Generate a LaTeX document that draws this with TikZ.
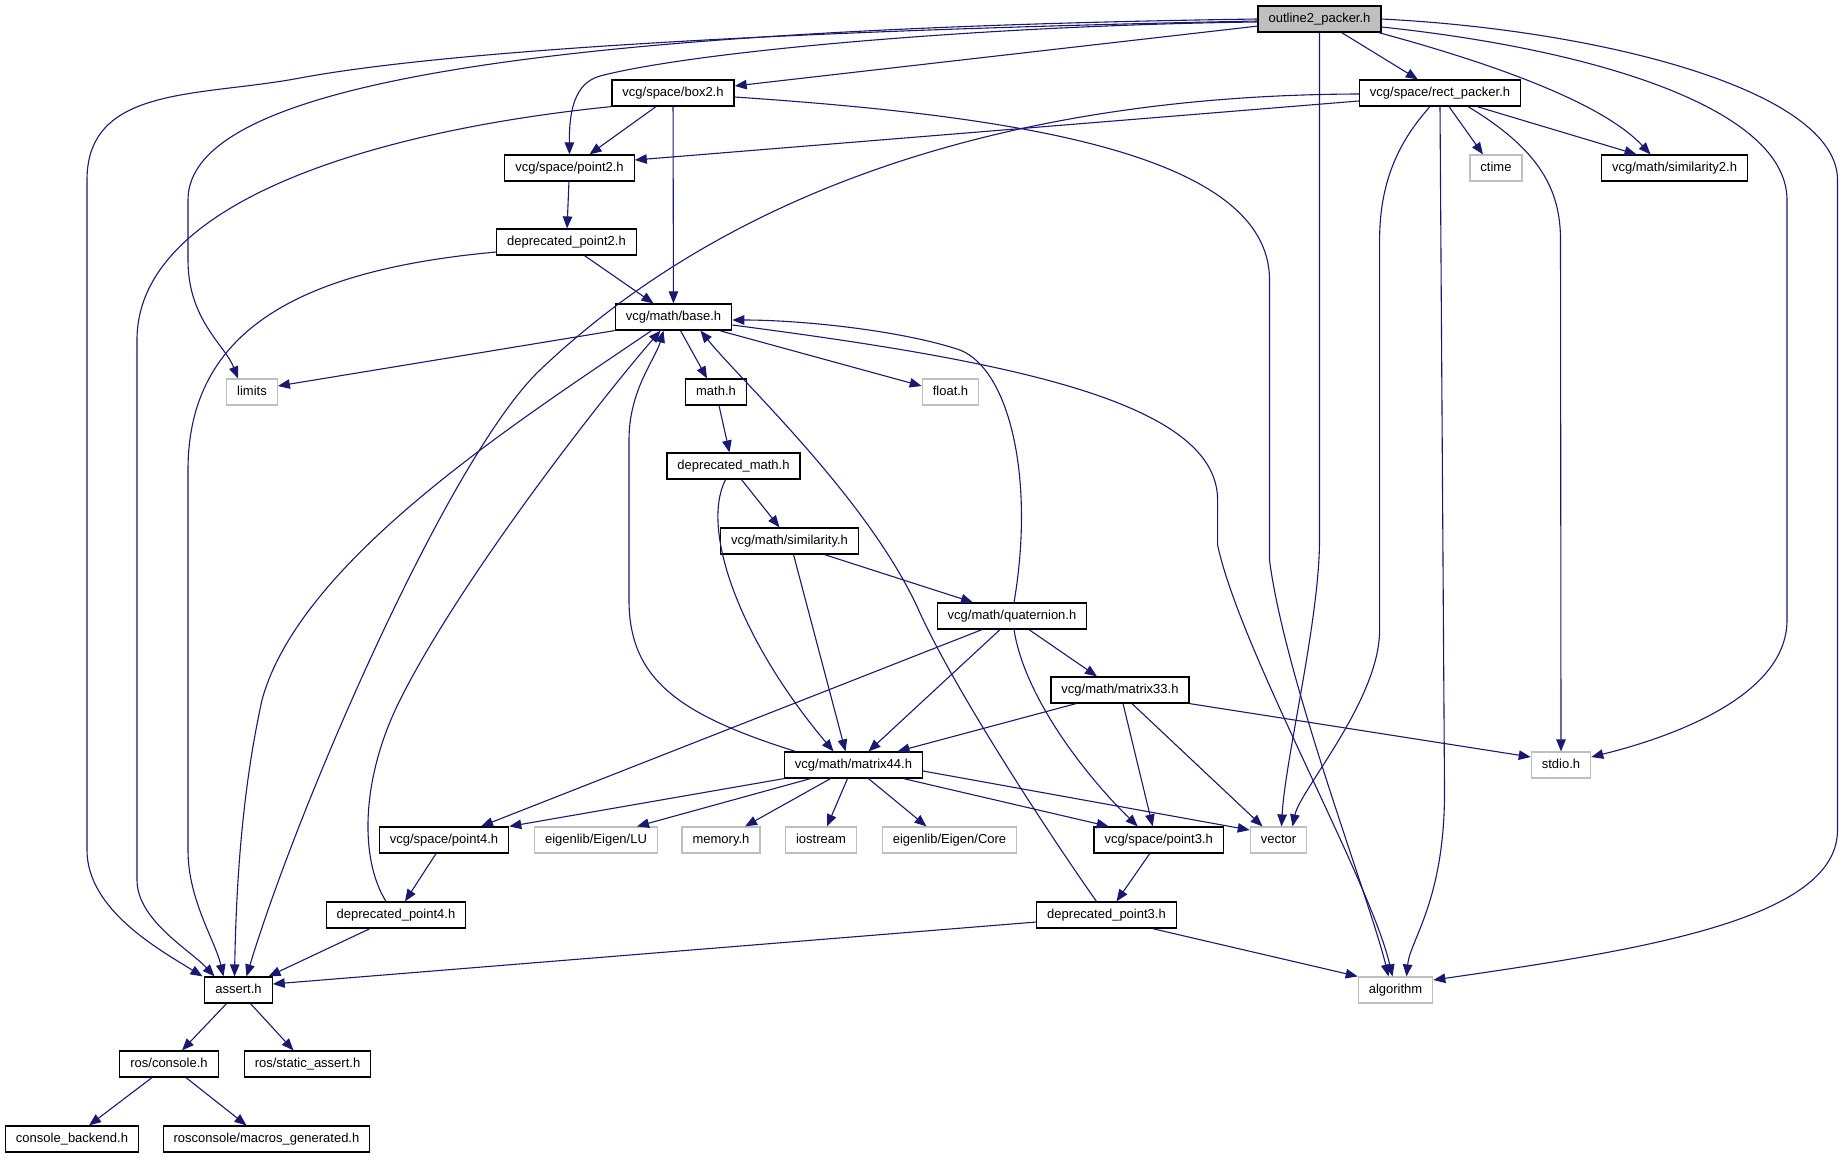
\documentclass[tikz,border=0pt]{standalone}
\usepackage{fontspec}
\setsansfont{Liberation Sans}
\usetikzlibrary{arrows.meta}
\definecolor{edgeblue}{HTML}{191970}
\definecolor{rootgray}{HTML}{BFBFBF}
\definecolor{sysgray}{HTML}{BFBFBF}

\begin{document}
\begin{tikzpicture}[x=1pt,y=-1pt,>={Triangle[length=12pt,width=9.5pt]},
                    file node/.style={draw,line width=1.2pt,fill=white,font=\sffamily\fontsize{13}{15}\selectfont,
                      minimum height=26pt,inner xsep=10.5pt,inner ysep=0pt,text height=9.5pt,text depth=2.8pt},
                    root node/.style={file node,fill=rootgray},
                    sys node/.style={file node,draw=sysgray},
                    dep line/.style={->,draw=edgeblue,line width=1.1pt}]

  \useasboundingbox (0,0) rectangle (1844,1157);

  \node[root node] (outline) at (1319.5,19) {outline2\_packer.h};
  \node[file node] (rectpk) at (1440,93) {vcg/space/rect\_packer.h};
  \node[file node] (box2) at (673,93) {vcg/space/box2.h};
  \node[file node] (point2) at (569.5,168) {vcg/space/point2.h};
  \node[sys node] (ctime) at (1496,168) {ctime};
  \node[file node] (simil2) at (1674.5,168) {vcg/math/similarity2.h};
  \node[file node] (dpoint2) at (566.5,242) {deprecated\_point2.h};
  \node[file node] (base) at (673.5,317) {vcg/math/base.h};
  \node[sys node] (limits) at (252,392) {limits};
  \node[file node] (math) at (716,392) {math.h};
  \node[sys node] (float) at (950.5,392) {float.h};
  \node[file node] (dmath) at (733.5,466) {deprecated\_math.h};
  \node[file node] (simil) at (789.5,541) {vcg/math/similarity.h};
  \node[file node] (quat) at (1012,616) {vcg/math/quaternion.h};
  \node[file node] (mat33) at (1120,690) {vcg/math/matrix33.h};
  \node[file node] (mat44) at (853.5,765) {vcg/math/matrix44.h};
  \node[sys node] (stdio) at (1561,765) {stdio.h};
  \node[file node] (point4) at (444,840) {vcg/space/point4.h};
  \node[sys node] (eigenlu) at (596,840) {eigenlib/Eigen/LU};
  \node[sys node] (memory) at (721,840) {memory.h};
  \node[sys node] (iostream) at (821,840) {iostream};
  \node[sys node] (eigencore) at (949.5,840) {eigenlib/Eigen/Core};
  \node[file node] (point3) at (1158.7,840) {vcg/space/point3.h};
  \node[sys node] (vector) at (1278.5,840) {vector};
  \node[file node] (dpoint4) at (396,915) {deprecated\_point4.h};
  \node[file node] (dpoint3) at (1106.5,915) {deprecated\_point3.h};
  \node[file node] (assert) at (238.5,990) {assert.h};
  \node[sys node] (algorithm) at (1395.5,990) {algorithm};
  \node[file node] (console) at (169,1064) {ros/console.h};
  \node[file node] (static) at (307.5,1064) {ros/static\_assert.h};
  \node[file node] (backend) at (72,1139) {console\_backend.h};
  \node[file node] (macros) at (266.5,1139) {rosconsole/macros\_generated.h};

  % straight includes
  \path[every edge/.style={dep line}]
    (outline) edge (box2)
    (outline) edge (rectpk)
    ([xshift=9pt]rectpk.south) edge ([xshift=-13pt]ctime.north)
    ([xshift=37pt]rectpk.south) edge ([xshift=-38pt]simil2.north)
    ([yshift=-8pt]rectpk.west) edge ([yshift=8pt]point2.east)
    ([xshift=-17pt]box2.south) edge ([xshift=20pt]point2.north)
    (box2) edge (base)
    (point2) edge (dpoint2)
    ([xshift=18pt]dpoint2.south) edge ([xshift=-20pt]base.north)
    (base.south west) edge ([yshift=6pt]limits.east)
    ([xshift=7pt]base.south) edge ([xshift=-9pt]math.north)
    ([xshift=46pt]base.south) edge ([yshift=6pt]float.west)
    ([xshift=3pt]math.south) edge ([xshift=-4pt]dmath.north)
    ([xshift=8pt]dmath.south) edge ([xshift=-10pt]simil.north)
    ([xshift=4pt]simil.south) edge ([xshift=-8pt]mat44.north)
    ([xshift=35pt]simil.south) edge ([xshift=-39pt]quat.north)
    ([xshift=-12pt]quat.south) edge ([xshift=15pt]mat44.north)
    ([xshift=-30pt]quat.south) edge ([xshift=37pt]point4.north)
    ([xshift=17pt]quat.south) edge ([xshift=-23pt]mat33.north)
    ([xshift=-44pt]mat33.south) edge ([xshift=44pt]mat44.north)
    ([xshift=3pt]mat33.south) edge ([xshift=-6pt]point3.north)
    ([xshift=12pt]mat33.south) edge ([xshift=-16pt]vector.north)
    (mat33.south east) edge ([yshift=8pt]stdio.west)
    (mat44.south west) edge (point4.north east)
    ([xshift=-43pt]mat44.south) edge ([xshift=41pt]eigenlu.north)
    ([xshift=-23pt]mat44.south) edge ([xshift=24pt]memory.north)
    ([xshift=-6pt]mat44.south) edge ([xshift=6pt]iostream.north)
    ([xshift=15pt]mat44.south) edge ([xshift=-23pt]eigencore.north)
    ([xshift=50pt]mat44.south) edge ([xshift=-50pt]point3.north)
    ([yshift=-6pt]mat44.east) edge ([yshift=10pt]vector.west)
    ([xshift=-8pt]point4.south) edge ([xshift=9pt]dpoint4.north)
    ([xshift=-26pt]dpoint4.south) edge ([xshift=30pt]assert.north)
    ([xshift=-9pt]point3.south) edge ([xshift=10pt]dpoint3.north)
    ([yshift=-7pt]dpoint3.west) edge ([yshift=6pt]assert.east)
    ([xshift=46pt]dpoint3.south) edge (algorithm.north west)
    ([xshift=-12pt]assert.south) edge ([xshift=13pt]console.north)
    ([xshift=12pt]assert.south) edge ([xshift=-14pt]static.north)
    ([xshift=-17pt]console.south) edge ([xshift=17pt]backend.north)
    ([xshift=17pt]console.south) edge ([xshift=-20pt]macros.north);

  % routed includes
  \draw[dep line] ([yshift=-3pt]outline.west) .. controls (1000,25) and (700,50) .. (600,76)
    .. controls (575,83) and (569,110) .. (point2.north);
  \draw[dep line] (outline.west) .. controls (500,30) and (188,90) .. (188,200) -- (188,260)
    .. controls (188,320) and (225,345) .. ([xshift=-14pt]limits.north);
  \draw[dep line] ([yshift=-2pt]outline.west) .. controls (800,30) and (450,50) .. (300,78)
    .. controls (200,97) and (87,85) .. (87,180) -- (87,850)
    .. controls (87,910) and (160,950) .. ([xshift=-36pt]assert.north);
  \draw[dep line] ([xshift=-3pt]outline.south east) .. controls (1480,60) and (1600,100) .. ([xshift=-24pt]simil2.north);
  \draw[dep line] ([yshift=-8pt]outline.east) .. controls (1600,50) and (1787,110) .. (1787,200) -- (1787,620)
    .. controls (1787,700) and (1660,740) .. ([yshift=8pt]stdio.east);
  \draw[dep line] (outline.east) .. controls (1600,30) and (1837.5,90) .. (1837.5,180) -- (1837.5,830)
    .. controls (1837.5,920) and (1640,950) .. ([yshift=10pt]algorithm.east);
  \draw[dep line] (outline.south) -- (1319.5,540) .. controls (1319.5,620) and (1285,760) .. ([xshift=3pt]vector.north);

  \draw[dep line] ([xshift=-10pt]rectpk.south) .. controls (1400,140) and (1379.6,180) .. (1379.6,240) -- (1379.6,630)
    .. controls (1379.6,700) and (1300,790) .. ([xshift=14pt]vector.north);
  \draw[dep line] (rectpk.south) -- (1444.5,790) .. controls (1445,900) and (1410,940) .. ([xshift=11pt]algorithm.north);
  \draw[dep line] ([xshift=28pt]rectpk.south) .. controls (1540,150) and (1560.5,190) .. (1560.5,240) -- (stdio.north);
  \draw[dep line] ([yshift=-1pt]rectpk.west) .. controls (1050,95) and (750,170) .. (540,370)
    .. controls (450,456) and (300,800) .. ([xshift=8pt]assert.north);

  \draw[dep line] (box2.south west) .. controls (380,130) and (137,200) .. (137,340) -- (137,880)
    .. controls (137,920) and (190,950) .. ([xshift=-24pt]assert.north);
  \draw[dep line] ([yshift=-4pt]box2.east) .. controls (1000,115) and (1269.5,150) .. (1269.5,280) -- (1269.5,560)
    .. controls (1285,680) and (1370,900) .. ([xshift=-7pt]algorithm.north);
  \draw[dep line] ([yshift=-10pt]dpoint2.west) .. controls (300,270) and (188,330) .. (188,470) -- (188,850)
    .. controls (188,900) and (215,940) .. ([xshift=-15pt]assert.north);

  \draw[dep line] ([xshift=-22pt]base.south) .. controls (520,420) and (300,560) .. (262,700)
    .. controls (240,800) and (236,900) .. ([xshift=-4pt]assert.north);
  \draw[dep line] ([yshift=-8pt]base.east) .. controls (1000,360) and (1217.6,400) .. (1217.6,500) -- (1217.6,545)
    .. controls (1240,650) and (1370,880) .. ([xshift=-3pt]algorithm.north);
  \draw[dep line] ([xshift=2pt]quat.north) .. controls (1035,480) and (1010,370) .. (960,350)
    .. controls (900,330) and (800,320) .. ([yshift=-3pt]base.east);
  \draw[dep line] ([xshift=-10pt]dpoint4.north) .. controls (360,860) and (360,780) .. (400,700)
    .. controls (460,580) and (600,400) .. ([xshift=-13pt]base.south);
  \draw[dep line] ([xshift=-58pt]mat44.north) .. controls (680,715) and (629,680) .. (629,600) -- (629,440)
    .. controls (629,390) and (655,360) .. ([xshift=-10pt]base.south);
  \draw[dep line] ([xshift=-10pt]dpoint3.north) .. controls (1060,850) and (960,700) .. (920,613)
    .. controls (870,500) and (740,380) .. ([xshift=27pt]base.south);
  \draw[dep line] ([xshift=-8pt]dmath.south) .. controls (700,530) and (740,640) .. ([xshift=-20pt]mat44.north);
  \draw[dep line] ([xshift=2pt]quat.south) .. controls (1025,700) and (1090,780) .. ([xshift=-21pt]point3.north);
\end{tikzpicture}
\end{document}
